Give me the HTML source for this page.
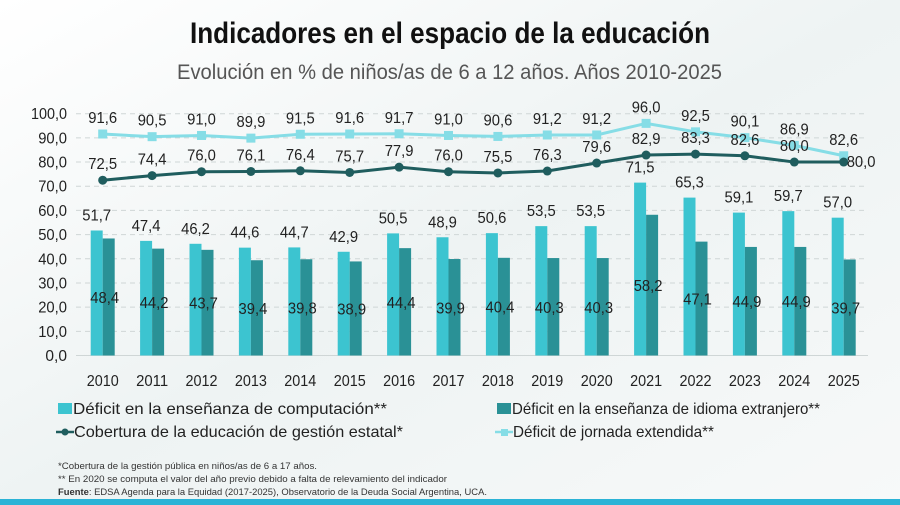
<!DOCTYPE html>
<html><head><meta charset="utf-8"><style>
body{margin:0;width:900px;height:505px;overflow:hidden;background:#f3f6f6}
svg{display:block}
text{font-family:"Liberation Sans Narrow","Liberation Sans",sans-serif}
</style></head><body>
<svg id="s" width="900" height="505" viewBox="0 0 900 505" xmlns="http://www.w3.org/2000/svg">
<defs><linearGradient id="bg" x1="0" y1="0" x2="1" y2="1"><stop offset="0" stop-color="#ffffff"/><stop offset="0.5" stop-color="#eef3f3"/><stop offset="1" stop-color="#f7f9f9"/></linearGradient></defs>
<rect width="900" height="505" fill="url(#bg)"/>
<rect y="499" width="900" height="6" fill="#2bb3d6"/>
<text x="190" y="43" font-size="30" font-weight="bold" fill="#111" textLength="520" lengthAdjust="spacingAndGlyphs">Indicadores en el espacio de la educación</text>
<text x="177" y="79" font-size="21" fill="#555" textLength="545" lengthAdjust="spacingAndGlyphs">Evolución en % de niños/as de 6 a 12 años. Años 2010-2025</text>
<g id="g"></g>
<g font-size="16" fill="#222">
<rect x="58" y="403" width="14" height="11" fill="#3cc4d0"/><text x="73" y="414" textLength="314" lengthAdjust="spacingAndGlyphs">Déficit en la enseñanza de computación**</text>
<rect x="497" y="403" width="14" height="11" fill="#2a9196"/><text x="512" y="414" textLength="308" lengthAdjust="spacingAndGlyphs">Déficit en la enseñanza de idioma extranjero**</text>
<line x1="56" y1="432" x2="74" y2="432" stroke="#1f5d5e" stroke-width="2.5"/><circle cx="65" cy="432" r="3.5" fill="#1f5d5e"/><text x="74" y="437" textLength="329" lengthAdjust="spacingAndGlyphs">Cobertura de la educación de gestión estatal*</text>
<line x1="495" y1="432" x2="513" y2="432" stroke="#86dde6" stroke-width="2.5"/><rect x="501" y="429" width="7" height="7" fill="#86dde6"/><text x="513" y="437" textLength="201" lengthAdjust="spacingAndGlyphs">Déficit de jornada extendida**</text>
</g>
<g font-size="9.5" fill="#333">
<text x="58" y="469" textLength="259" lengthAdjust="spacingAndGlyphs">*Cobertura de la gestión pública en niños/as de 6 a 17 años.</text>
<text x="58" y="482" textLength="389" lengthAdjust="spacingAndGlyphs">** En 2020 se computa el valor del año previo debido a falta de relevamiento del indicador</text>
<text x="58" y="495" textLength="429" lengthAdjust="spacingAndGlyphs"><tspan font-weight="bold">Fuente</tspan>: EDSA Agenda para la Equidad (2017-2025), Observatorio de la Deuda Social Argentina, UCA.</text>
</g>
</svg>
<script>
const L=[51.7,47.4,46.2,44.6,44.7,42.9,50.5,48.9,50.6,53.5,53.5,71.5,65.3,59.1,59.7,57.0];
const D=[48.4,44.2,43.7,39.4,39.8,38.9,44.4,39.9,40.4,40.3,40.3,58.2,47.1,44.9,44.9,39.7];
const C=[72.5,74.4,76.0,76.1,76.4,75.7,77.9,76.0,75.5,76.3,79.6,82.9,83.3,82.6,80.0,80.0];
const J=[91.6,90.5,91.0,89.9,91.5,91.6,91.7,91.0,90.6,91.2,91.2,96.0,92.5,90.1,86.9,82.6];
const Y=v=>355.5-v*2.418, X=i=>102.7+i*49.4, f=v=>v.toFixed(1).replace('.',',');
const T=(x,y,s,a,w)=>`<text x="${x}" y="${y}" text-anchor="${a||'middle'}" font-size="16" fill="#222" textLength="${s.length*(w||7.2)}" lengthAdjust="spacingAndGlyphs">${s}</text>`;
let h='';
for(let k=0;k<=10;k++){const y=Y(k*10);
h+=`<line x1="76" y1="${y}" x2="868" y2="${y}" stroke="#cfd6d6" stroke-width="1" ${k?'stroke-dasharray="5,4"':''}/>`;
h+=T(67,y+5.5,f(k*10),'end');}
for(let i=0;i<16;i++){const x=X(i);
h+=`<rect x="${x-12}" y="${Y(L[i])}" width="12" height="${355.5-Y(L[i])}" fill="#3cc4d0"/>`;
h+=`<rect x="${x}" y="${Y(D[i])}" width="12" height="${355.5-Y(D[i])}" fill="#2a9196"/>`;
h+=T(x-6,Y(L[i])-10,f(L[i]));
h+=T(x+2,(Y(D[i])+355.5)/2+6,f(D[i]));
h+=T(x,386,String(2010+i),'middle',8);}
h+=`<polyline fill="none" stroke="#86dde6" stroke-width="3" points="${J.map((v,i)=>X(i)+','+Y(v)).join(' ')}"/>`;
h+=`<polyline fill="none" stroke="#1f5d5e" stroke-width="3" points="${C.map((v,i)=>X(i)+','+Y(v)).join(' ')}"/>`;
for(let i=0;i<16;i++){const x=X(i);
h+=`<rect x="${x-4.5}" y="${Y(J[i])-4.5}" width="9" height="9" fill="#86dde6"/>`;
h+=`<circle cx="${x}" cy="${Y(C[i])}" r="4.5" fill="#1f5d5e"/>`;
h+=T(x,Y(J[i])-11,f(J[i]));
if(i==15)h+=T(x+3,Y(C[i])+5,f(C[i]),'start');
else h+=T(x,Y(C[i])-11,f(C[i]));}
document.getElementById('g').innerHTML=h;
</script>
</body></html>
